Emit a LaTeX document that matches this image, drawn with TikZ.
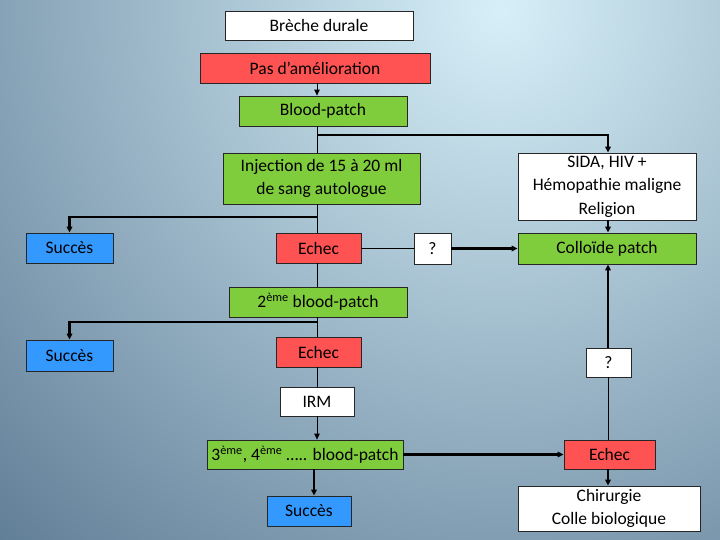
\documentclass[tikz,border=0pt]{standalone}
\usepackage{fontspec}
\setmainfont{Carlito}
\usetikzlibrary{arrows.meta}

\definecolor{redbox}{HTML}{FF5353}
\definecolor{greenbox}{HTML}{7FCC3C}
\definecolor{bluebox}{HTML}{3399FF}
\definecolor{bgin}{HTML}{D6EFF8}
\definecolor{bgout}{HTML}{5A7791}

\begin{document}
\begin{tikzpicture}[x=1pt, y=-1pt,
  box/.style={draw=black!85, line width=.8pt, inner sep=0pt, align=center,
    font=\fontsize{17.5}{23.5}\selectfont},
  wbox/.style={box, fill=white},
  rbox/.style={box, fill=redbox},
  gbox/.style={box, fill=greenbox},
  bbox/.style={box, fill=bluebox},
  link/.style={line width=1pt},
  flow/.style={line width=2.2pt},
  tip/.style={-{Triangle[length=6pt,width=5.5pt]}}]

% background
\begin{scope}
\clip (0,0) rectangle (720,540);
\shade[inner color=bgin, outer color=bgout] (500,10) circle (780);
\end{scope}
\useasboundingbox (0,0) rectangle (720,540);

% boxes
\node[wbox, minimum width=188, minimum height=29] (breche) at (319,25.5) {Brèche durale};
\node[rbox, minimum width=230, minimum height=30] (pas) at (315,68) {Pas d’amélioration};
\node[gbox, minimum width=168, minimum height=30] (bp) at (323,111) {Blood-patch};
\node[gbox, minimum width=197, minimum height=51] (inj) at (321.5,178.5) {Injection de 15 à 20 ml\\de sang autologue};
\node[wbox, minimum width=178, minimum height=67] (sida) at (607,186.5) {SIDA, HIV +\\Hémopathie maligne\\Religion};
\node[bbox, minimum width=87, minimum height=30] (succ1) at (69.5,248) {Succès};
\node[rbox, minimum width=85, minimum height=30] (echec1) at (318.5,248) {Echec};
\node[wbox, minimum width=37, minimum height=31] (q1) at (432.5,248.5) {?};
\node[gbox, minimum width=178, minimum height=31] (coll) at (607,248.5) {Colloïde patch};
\node[gbox, minimum width=178, minimum height=30] (bp2) at (318,302) {2\textsuperscript{ème} blood-patch};
\node[bbox, minimum width=87, minimum height=31] (succ2) at (69.5,355.5) {Succès};
\node[rbox, minimum width=85, minimum height=30] (echec2) at (318.5,352) {Echec};
\node[wbox, minimum width=45, minimum height=29] (q2) at (608.5,362.5) {?};
\node[wbox, minimum width=74, minimum height=29] (irm) at (317,401.5) {IRM};
\node[gbox, minimum width=196, minimum height=29] (bp3) at (305,454.5) {3\textsuperscript{ème}, 4\textsuperscript{ème} ….. blood-patch};
\node[rbox, minimum width=91, minimum height=29] (echec3) at (609.5,454.5) {Echec};
\node[bbox, minimum width=84, minimum height=30] (succ3) at (309,511) {Succès};
\node[wbox, minimum width=182, minimum height=45] (chir) at (609,508.5) {Chirurgie\\Colle biologique};

% trunk lines and forks
\coordinate (spine) at (317,0);
\coordinate (rcol) at (608,0);
\coordinate (fork1) at (317,135);
\coordinate (fork2) at (317,216.7);
\coordinate (fork3) at (317,322.3);

\draw[link, tip] (pas.south -| spine) -- (bp.north -| spine);
\draw[link] (bp.south -| spine) -- (inj.north -| spine);
\draw[flow, tip] (fork1) -| (sida.north -| rcol);
\draw[link] (inj.south -| spine) -- (echec1.north -| spine);
\draw[flow, tip] (fork2) -| (succ1.north);
\draw[link] (echec1.east) -- (q1.west |- echec1.east);
\draw[flow, tip] (q1.east) -- (coll.west |- q1.east);
\draw[flow, tip] (sida.south -| rcol) -- (coll.north -| rcol);
\draw[link] (echec1.south -| spine) -- (bp2.north -| spine);
\draw[link] (bp2.south -| spine) -- (echec2.north -| spine);
\draw[flow, tip] (fork3) -| (succ2.north);
\draw[link] (echec2.south -| spine) -- (irm.north -| spine);
\draw[link, tip] (irm.south -| spine) -- (bp3.north -| spine);
\draw[flow, tip] (q2.north -| rcol) -- (coll.south -| rcol);
\draw[link] (echec3.north -| rcol) -- (q2.south -| rcol);
\draw[flow, tip] (bp3.east) -- (echec3.west |- bp3.east);
\draw[flow, tip] (bp3.south -| 314,0) -- (succ3.north -| 314,0);
\draw[flow, tip] (echec3.south -| rcol) -- (chir.north -| rcol);

\end{tikzpicture}
\end{document}
